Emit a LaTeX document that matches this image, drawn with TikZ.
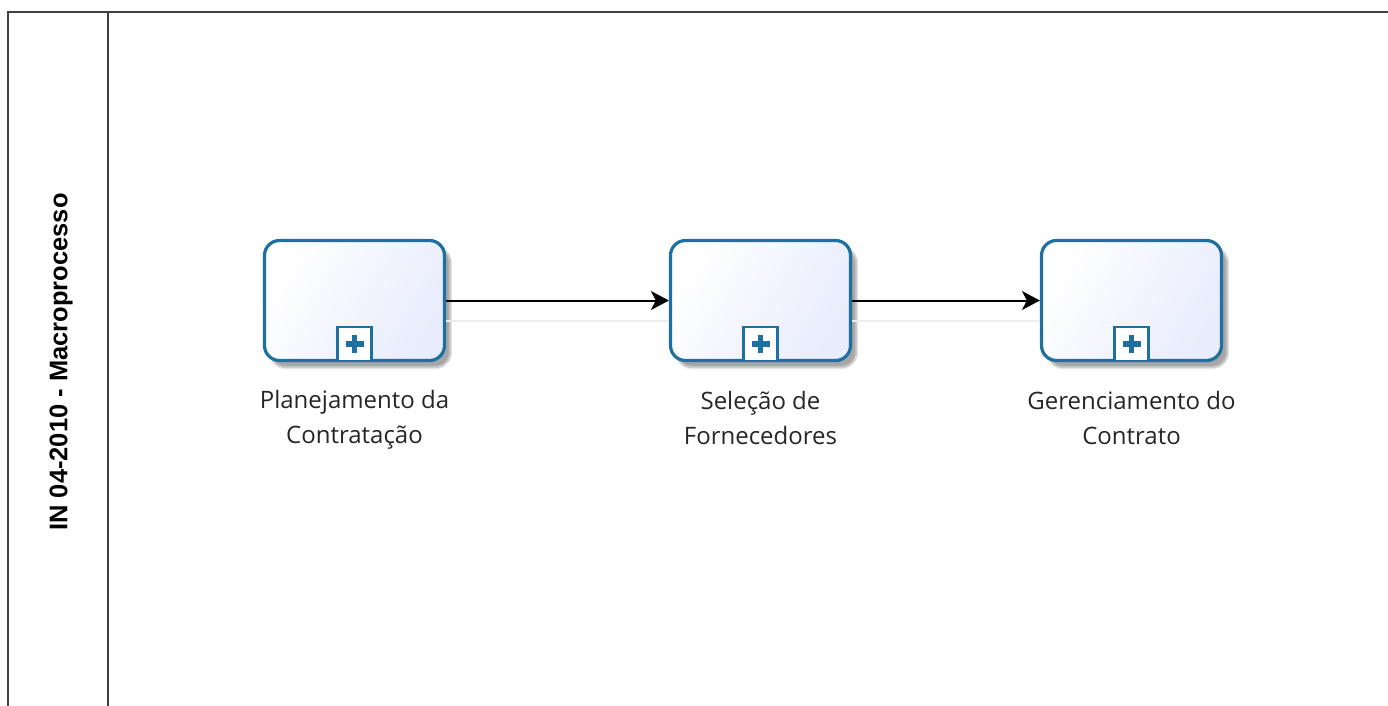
\documentclass[tikz,border=0pt]{standalone}
\usepackage{fontspec}
\setmainfont{Open Sans}
\newfontfamily\lanefont{Liberation Sans}
\usetikzlibrary{positioning,shadows,shadows.blur,arrows.meta}

\definecolor{taskblue}{RGB}{30,112,160}
\definecolor{taskfill}{RGB}{232,236,252}
\definecolor{poolgray}{RGB}{64,64,64}

\begin{document}
\begin{tikzpicture}[x=1pt, y=-1pt, node distance=120pt, on grid,
    task/.style={draw=taskblue, line width=3.2pt, rounded corners=15pt,
      minimum width=180pt, minimum height=120pt, inner sep=0pt,
      left color=white, right color=taskfill, shading angle=60,
      blur shadow={shadow xshift=6pt, shadow yshift=-7pt,
        shadow blur steps=10, shadow opacity=35}},
    subproc/.style={draw=taskblue, line width=2.5pt, fill=white,
      minimum size=34pt, inner sep=0pt, anchor=south,
      path picture={\draw[taskblue, line width=5.5pt]
        ([xshift=-9pt]path picture bounding box.center) --
        ([xshift=9pt]path picture bounding box.center)
        ([yshift=-9pt]path picture bounding box.center) --
        ([yshift=9pt]path picture bounding box.center);}},
    tasklabel/.style={align=center, font=\fontsize{24}{35}\selectfont,
      text=black!85},
    flow/.style={-{Stealth[length=18pt, width=19pt, inset=5pt]},
      line width=2pt},
    flowshade/.style={draw=black!7, line width=2pt}
  ]
    \useasboundingbox (0,0) rectangle (1388,705);
    % pool with its lane
    \draw[poolgray, line width=2pt] (8,12) rectangle (1430,740);
    \draw[poolgray, line width=2pt] (108,12) -- (108,740);
    \node[rotate=90, font=\lanefont\bfseries\fontsize{25.5}{30}\selectfont]
      (lane) at (61,362) {IN 04-2010 - Macroprocesso};

    % sub-processes
    \node[task] (plan) at (354.5,300.5) {};
    \node[task] (sel) [right=406pt of plan] {};
    \node[task] (ger) [right=371pt of sel] {};
    \node[subproc] (plan_m) at (plan.south) {};
    \node[subproc] (sel_m) at (sel.south) {};
    \node[subproc] (ger_m) at (ger.south) {};

    \node[tasklabel] (plan_l) [below=119pt of plan] {Planejamento da\\Contratação};
    \node[tasklabel] (sel_l) [below=117pt of sel] {Seleção de\\Fornecedores};
    \node[tasklabel] (ger_l) [below=117pt of ger] {Gerenciamento do\\Contrato};

    % faint reflection of the flows
    \path[flowshade]
    ([yshift=-20pt]plan.east) edge ([yshift=-20pt]sel.west)
    ([yshift=-20pt]sel.east) edge ([yshift=-20pt]ger.west);
    \path[flow]
    (plan) edge (sel)
    (sel) edge (ger)
          ;
  \end{tikzpicture}
\end{document}
